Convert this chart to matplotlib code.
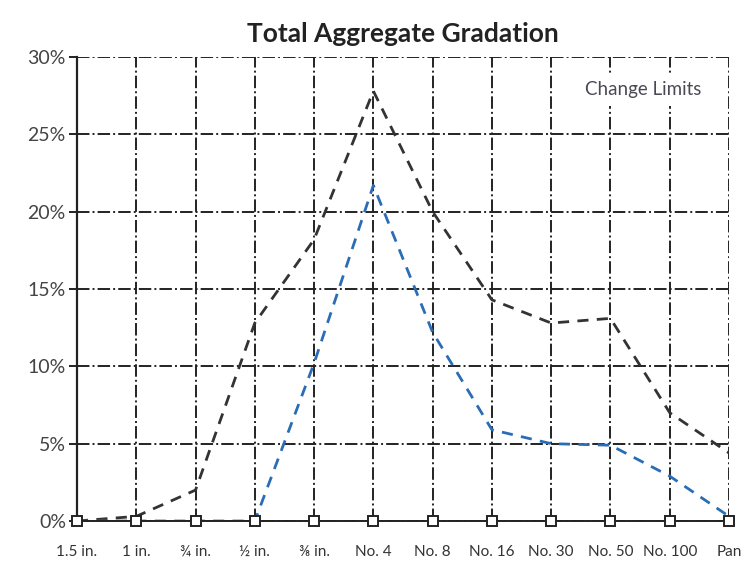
import numpy as np
import matplotlib.pyplot as plt

plt.rcParams['font.family'] = ['Lato', 'DejaVu Sans']

sieves = ['1.5 in.', '1 in.', '¾ in.', '½ in.', '⅜ in.', 'No. 4', 'No. 8',
          'No. 16', 'No. 30', 'No. 50', 'No. 100', 'Pan']
upper_limit = [0.0, 0.3, 2.0, 12.8, 18.2, 27.8, 20.0, 14.3, 12.8, 13.1, 7.0, 4.4]
lower_limit = [0.0, 0.0, 0.0, 0.0, 10.2, 21.7, 12.2, 5.9, 5.0, 4.9, 2.9, 0.3]
yticks = [0, 5, 10, 15, 20, 25, 30]

x = np.arange(len(sieves))

fig = plt.figure(figsize=(7.49, 5.61), dpi=100)
ax = fig.add_axes([0.1028, 0.0713, 0.8705, 0.8271])

ax.grid(True, color='#222222', linestyle='-.', linewidth=1.4)
ax.set_axisbelow(True)

ax.plot(x, upper_limit, color='#333333', linestyle=(0, (4, 3)), linewidth=2, zorder=3)
ax.plot(x, lower_limit, color='#2a6db5', linestyle=(0, (4, 3)), linewidth=2, zorder=3)
ax.plot(x, np.zeros(len(x)), color='#222222', linewidth=1.4, marker='s', markersize=7,
        markerfacecolor='white', markeredgecolor='#222222', markeredgewidth=1.4,
        clip_on=False, zorder=4)

ax.set_xlim(0, len(sieves) - 1)
ax.set_ylim(0, 30)
ax.set_xticks(x)
ax.set_xticklabels(sieves, fontsize=11, color='#333333')
ax.set_yticks(yticks)
ax.set_yticklabels([f'{v}%' for v in yticks], fontsize=14, color='#444444')
ax.tick_params(axis='x', length=0, pad=17)
ax.tick_params(axis='y', length=6, width=1.4, color='#222222', pad=2)

for s in ['top', 'right']:
    ax.spines[s].set_visible(False)
ax.spines['left'].set_linewidth(1.6)
ax.spines['left'].set_color('#222222')
ax.spines['bottom'].set_visible(False)

ax.text(0.957, 0.93, 'Change Limits', transform=ax.transAxes, ha='right', va='center',
        fontsize=13.5, color='#4a4a55',
        bbox=dict(facecolor='white', edgecolor='none', pad=6))

ax.set_title('Total Aggregate Gradation', fontsize=19, fontweight='bold', color='#222222', pad=11)

fig.savefig('out.png', dpi=100)
